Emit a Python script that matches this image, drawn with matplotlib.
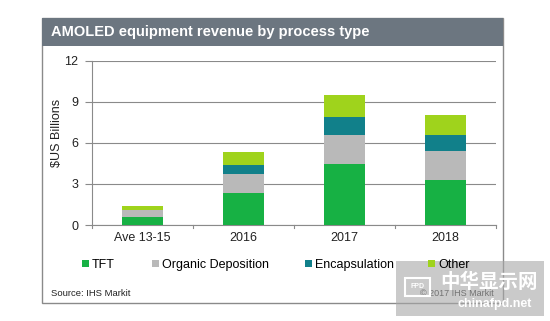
import matplotlib
matplotlib.use("Agg")
import matplotlib.pyplot as plt
from matplotlib.patches import Rectangle
import numpy as np

categories = ["Ave 13-15", "2016", "2017", "2018"]
tft = [0.62, 2.33, 4.45, 3.29]
organic = [0.44, 1.39, 2.15, 2.09]
encap = [0.07, 0.67, 1.31, 1.19]
other = [0.29, 0.93, 1.56, 1.49]
series_names = ["TFT", "Organic Deposition", "Encapsulation", "Other"]
colors = ["#17b144", "#b9b9b9", "#11808a", "#9fd31c"]
yticks = [0, 3, 6, 9, 12]

plt.rcParams['font.family'] = ['Liberation Sans', 'DejaVu Sans']

W, H = 550, 321
fig = plt.figure(figsize=(W / 100, H / 100), dpi=100)
fig.patch.set_facecolor("white")

def fx(px):
    return px / W

def fy(py):
    return 1 - py / H

# outer frame
frame = Rectangle((fx(42), fy(303)), fx(503) - fx(42), fy(18) - fy(303),
                  transform=fig.transFigure, fill=False, edgecolor="#8a8a8a", lw=1.0)
fig.add_artist(frame)
# title bar
tb = Rectangle((fx(42), fy(46)), fx(503) - fx(42), fy(18) - fy(46),
               transform=fig.transFigure, facecolor="#6c7680", edgecolor="none")
fig.add_artist(tb)
fig.text(fx(51), fy(32), "AMOLED equipment revenue by process type", color="white",
         fontsize=10.5, fontweight="bold", va="center", ha="left")

ax = fig.add_axes([fx(92), fy(225), fx(496) - fx(92), fy(60.5) - fy(225)])
x = np.arange(len(categories))
data = [tft, organic, encap, other]
bottom = np.zeros(len(categories))
handles = []
for vals, c, name in zip(data, colors, series_names):
    b = ax.bar(x, vals, width=0.4, bottom=bottom, color=c, label=name, zorder=3)
    handles.append(b)
    bottom += np.array(vals)

ax.set_xlim(-0.5, len(categories) - 0.5)
ax.set_ylim(0, 12)
ax.set_yticks(yticks)
ax.set_yticklabels([str(v) for v in yticks], fontsize=9, color="#222222")
ax.set_xticks(x)
ax.set_xticklabels(categories, fontsize=9, color="#222222")
ax.tick_params(axis="x", length=0, pad=5)
ax.tick_params(axis="y", length=5, color="#8a8a8a", pad=5)
# category boundary ticks on the x axis
for b in np.arange(-0.5, len(categories), 1.0):
    ax.plot([b, b], [0, -0.25], color="#8a8a8a", lw=0.8, clip_on=False, zorder=2)

ax.yaxis.grid(True, color="#8a8a8a", lw=0.8, zorder=0)
ax.set_axisbelow(True)
for s in ["top", "right"]:
    ax.spines[s].set_visible(False)
ax.spines["left"].set_color("#8a8a8a")
ax.spines["bottom"].set_color("#8a8a8a")
ax.set_ylabel("$US Billions", fontsize=9, color="#222222")
ax.yaxis.set_label_coords((63 - 92) / 404, 0.56)

# legend: one entry each, placed individually
leg_x = [82, 152, 305, 428]
for h, name, lx in zip(handles, series_names, leg_x):
    lg = fig.legend([h], [name], loc="center left", bbox_to_anchor=(fx(lx), fy(265)),
                    frameon=False, fontsize=9, handlelength=0.55, handleheight=0.55,
                    handletextpad=0.25, borderpad=0, borderaxespad=0)
    lg.set_zorder(12)

fig.text(fx(51), fy(293), "Source: IHS Markit", fontsize=6.8, color="#222222",
         va="center", ha="left")
fig.text(fx(494), fy(293), "© 2017 IHS Markit", fontsize=6.5, color="#222222",
         va="center", ha="right")

# watermark
wm = Rectangle((fx(396), fy(316)), fx(544) - fx(396), fy(261) - fy(316),
               transform=fig.transFigure, facecolor="#a8a8a8", alpha=0.6,
               edgecolor="none", zorder=10)
fig.add_artist(wm)
fig.text(fx(489), fy(282), "中华显示网", fontsize=14, color="white", fontweight="bold",
         family=["Noto Sans CJK SC", "DejaVu Sans"], ha="center", va="center", zorder=11)
fig.text(fx(495), fy(304), "chinafpd.net", fontsize=9, color="white", fontweight="bold",
         ha="center", va="center", zorder=11)
mon = Rectangle((fx(405), fy(296)), fx(430) - fx(405), fy(278) - fy(296),
                transform=fig.transFigure, fill=False, edgecolor="white", lw=1.5, zorder=11)
fig.add_artist(mon)
fig.text(fx(417.5), fy(287), "FPD", fontsize=5, color="white", fontweight="bold",
         ha="center", va="center", zorder=11)

fig.savefig("out.png", dpi=100)
